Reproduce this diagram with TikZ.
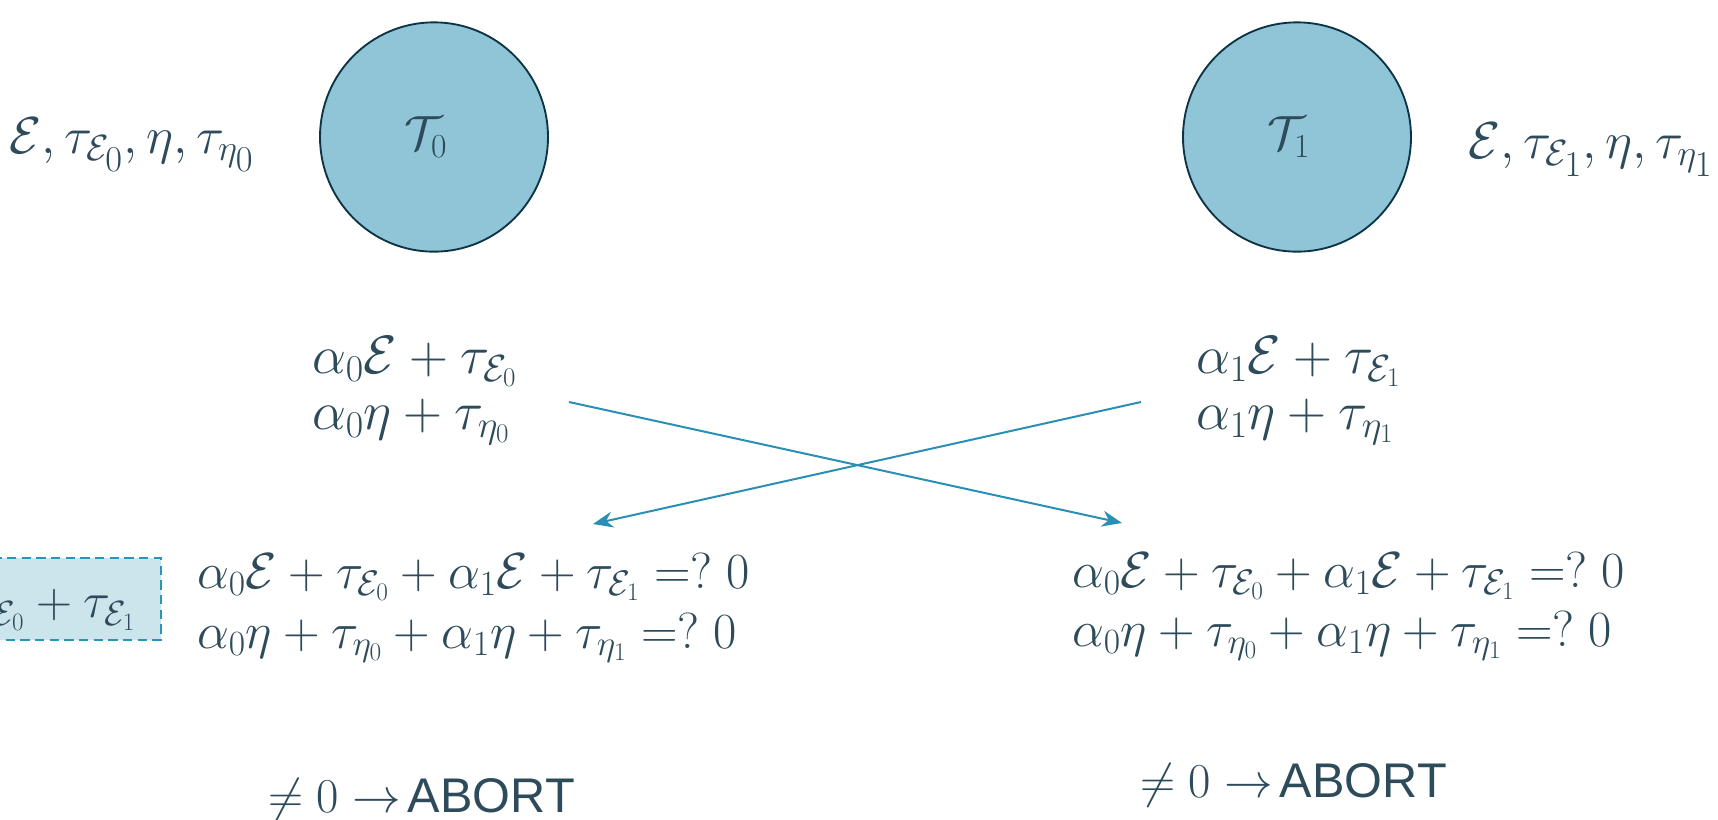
\RequirePackage{fix-cm}% scalable math fonts
\documentclass[tikz,border=0pt]{standalone}
\usepackage{fontspec}
\newfontfamily\abortfont{Liberation Sans}
\usetikzlibrary{arrows.meta,shapes.geometric}
\definecolor{ink}{HTML}{2E4B5B}
\definecolor{discfill}{HTML}{8FC5D7}
\definecolor{discline}{HTML}{0D3444}
\definecolor{arrowc}{HTML}{2A8FB5}
\definecolor{boxfill}{HTML}{CCE5EC}
\definecolor{boxline}{HTML}{2A95B8}
\begin{document}
\begin{tikzpicture}[x=0.75pt,y=-0.75pt,
  party/.style={ellipse,draw=discline,fill=discfill,line width=1.4pt,
    minimum width=171pt,minimum height=172pt,inner sep=0pt},
  partyname/.style={inner sep=0pt,text=ink,font=\fontsize{36}{43}\selectfont},
  toplabel/.style={anchor=base west,inner sep=0pt,text=ink,font=\fontsize{39}{46}\selectfont},
  msgline/.style={anchor=base west,inner sep=0pt,text=ink,font=\fontsize{40.5}{48}\selectfont},
  eqline/.style={anchor=base west,inner sep=0pt,text=ink,font=\fontsize{38}{45}\selectfont},
  verdict/.style={anchor=base west,inner sep=0pt,text=ink,font=\fontsize{36.5}{44}\selectfont},
  cross/.style={draw=arrowc,line width=1.5pt,-{Stealth[length=15pt,width=12pt]}},
  sumbox/.style={draw=boxline,fill=boxfill,dashed,dash pattern=on 7pt off 4pt,line width=1.5pt,
    minimum height=61pt,inner xsep=19pt,inner ysep=0pt,text height=36pt,text depth=8pt,
    text=ink,font=\fontsize{37.5}{45}\selectfont}]
\useasboundingbox (0,0) rectangle (1718,819);

% the two parties
\node[party] (T0) at (434,137) {};
\node[party] (T1) at (1297,137) {};
\node[partyname] (n0) at ([xshift=-6pt]T0.center) {$\mathcal{T}_0$};
\node[partyname] (n1) at ([xshift=-6pt]T1.center) {$\mathcal{T}_1$};

% their shared values
\node[toplabel] (v0) at (9,153) {$\mathcal{E},\tau_{\mathcal{E}_{\scriptstyle 0}},\eta,\tau_{\eta_{\scriptstyle 0}}$};
\node[toplabel] (v1) at (1468,158) {$\mathcal{E},\tau_{\mathcal{E}_{\scriptstyle 1}},\eta,\tau_{\eta_{\scriptstyle 1}}$};

% masked values sent by each party
\node[msgline] (m0a) at (312,373) {$\alpha_0\mathcal{E}+\tau_{\mathcal{E}_0}$};
\node[msgline] (m0b) at (312,429) {$\alpha_0\eta+\tau_{\eta_0}$};
\node[msgline] (m1a) at (1196,373) {$\alpha_1\mathcal{E}+\tau_{\mathcal{E}_1}$};
\node[msgline] (m1b) at (1196,429) {$\alpha_1\eta+\tau_{\eta_1}$};

% exchange
\coordinate (s0) at (569,402);
\coordinate (e0) at (1122,523);
\coordinate (s1) at (1141,402);
\coordinate (e1) at (593,524);
\draw[cross] (s0) -- (e0);
\draw[cross] (s1) -- (e1);

% checks
\node[eqline] (c0a) at (197,588) {$\alpha_0\mathcal{E}+\tau_{\mathcal{E}_0}+\alpha_1\mathcal{E}+\tau_{\mathcal{E}_1}\mathrel{=?}0$};
\node[eqline] (c0b) at (197,648) {$\alpha_0\eta+\tau_{\eta_0}+\alpha_1\eta+\tau_{\eta_1}\mathrel{=?}0$};
\node[eqline] (c1a) at (1072,587) {$\alpha_0\mathcal{E}+\tau_{\mathcal{E}_0}+\alpha_1\mathcal{E}+\tau_{\mathcal{E}_1}\mathrel{=?}0$};
\node[eqline] (c1b) at (1072,646) {$\alpha_0\eta+\tau_{\eta_0}+\alpha_1\eta+\tau_{\eta_1}\mathrel{=?}0$};

% highlighted sum at the left edge
\begin{scope}
  \clip (0,0) rectangle (1718,819);
  \node[sumbox,anchor=east] (sum) at (162,599) {$\tau_{\mathcal{E}_0}+\tau_{\mathcal{E}_1}$};
\end{scope}

% outcomes
\node[verdict] (a0) at (268,812) {$\neq 0\rightarrow$\hspace{5pt}\abortfont ABORT};
\node[verdict] (a1) at (1140,797) {$\neq 0\rightarrow$\hspace{5pt}\abortfont ABORT};
\end{tikzpicture}
\end{document}
